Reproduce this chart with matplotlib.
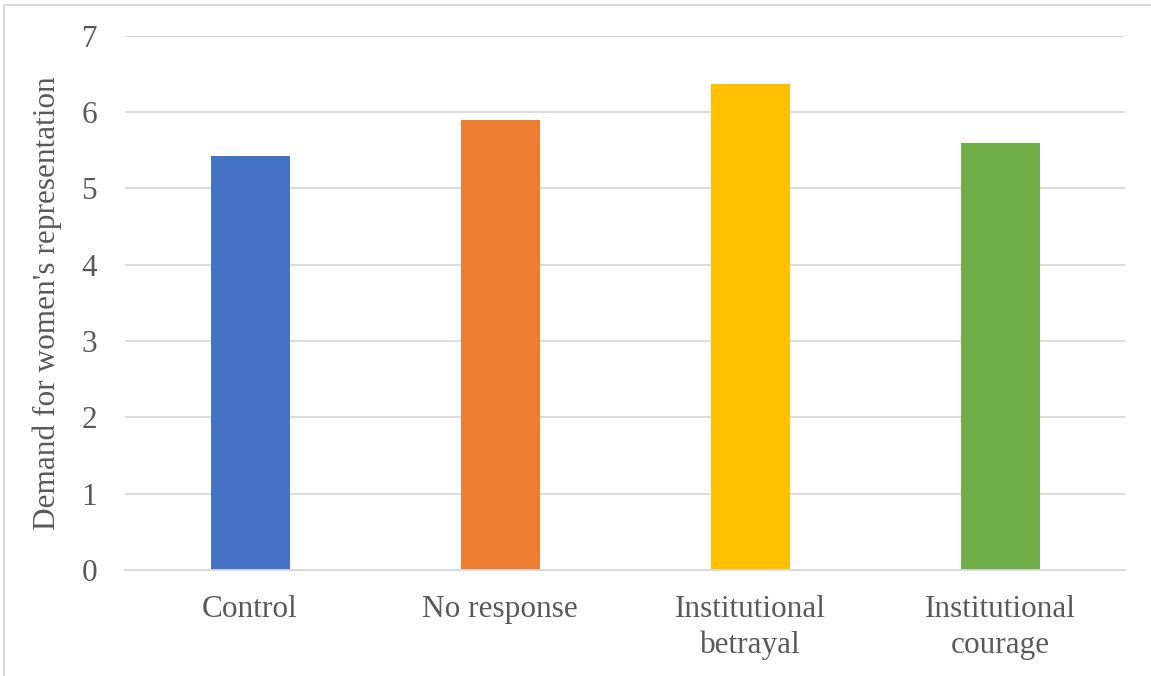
import matplotlib
matplotlib.use("Agg")
import matplotlib.pyplot as plt
from matplotlib.patches import Rectangle

# Mean demand for women's representation by condition
conditions = ["Control", "No response", "Institutional\nbetrayal", "Institutional\ncourage"]
demand = [5.43, 5.89, 6.37, 5.60]
bar_colors = ["#4472C4", "#ED7D31", "#FFC000", "#70AD47"]
y_ticks = [0, 1, 2, 3, 4, 5, 6, 7]

plt.rcParams["font.family"] = ["Liberation Serif", "DejaVu Serif"]
text_color = "#595959"
grid_color = "#D9D9D9"

fig = plt.figure(figsize=(11.51, 6.76), dpi=100)
ax = fig.add_axes([125 / 1151, 1 - 570 / 676, 1000 / 1151, (570 - 35.7) / 676])

x = range(len(conditions))
ax.bar(x, demand, width=0.316, color=bar_colors, zorder=3)

ax.set_xlim(-0.5, len(conditions) - 0.5)
ax.set_ylim(0, 7)
ax.set_yticks(y_ticks)
ax.set_xticks(list(x))
ax.set_xticklabels(conditions, linespacing=1.3)

ax.grid(axis="y", color=grid_color, linewidth=1.3, zorder=0)
for side in ["top", "right", "left"]:
    ax.spines[side].set_visible(False)
ax.spines["bottom"].set_color(grid_color)
ax.spines["bottom"].set_linewidth(1.3)
ax.spines["bottom"].set_zorder(4)

ax.tick_params(axis="both", length=0, labelsize=22.5, colors=text_color)
ax.tick_params(axis="y", pad=20)
ax.tick_params(axis="x", pad=18)
ax.set_ylabel("Demand for women's representation", fontsize=22.5,
              color=text_color, labelpad=14)

# light frame around the chart area
fig.patches.append(Rectangle((4 / 1151, -0.05), 1.2, 1 - 5 / 676 + 0.05,
                             transform=fig.transFigure, fill=False,
                             edgecolor="#D9D9D9", linewidth=1.5))

fig.savefig("out.png", dpi=100)
